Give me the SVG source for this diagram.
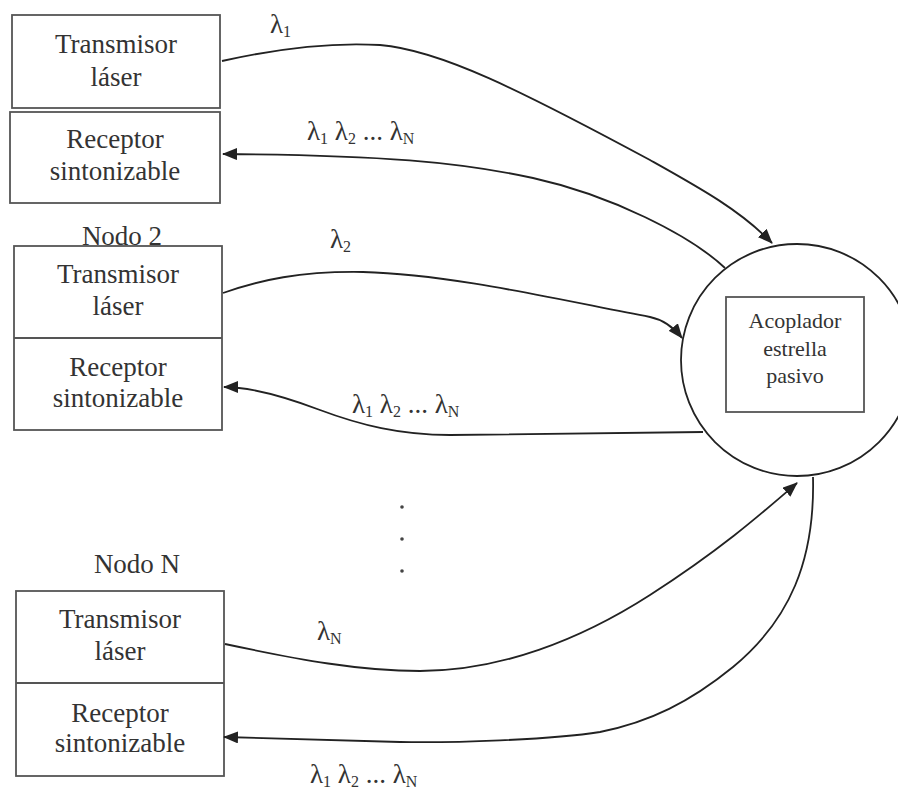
<svg xmlns="http://www.w3.org/2000/svg" width="898" height="791" viewBox="0 0 898 791">
<style>
.box{fill:none;stroke:#555;stroke-width:1.8}
.t{font-family:"Liberation Serif","Times New Roman",serif;font-size:27px;fill:#333;text-anchor:middle}
.c{font-family:"Liberation Serif","Times New Roman",serif;font-size:22px;fill:#333;text-anchor:middle}
.lam{font-family:"Liberation Serif","Times New Roman",serif;font-size:27px;fill:#333}
.sub{font-size:16px}
.conn{fill:none;stroke:#222;stroke-width:1.8}
</style>
<defs>
<marker id="ah" markerUnits="userSpaceOnUse" markerWidth="16" markerHeight="12" refX="14" refY="6" orient="auto">
<path d="M0,0 L15,6 L0,12 Z" fill="#222"/>
</marker>
</defs>
<rect width="898" height="791" fill="#fff"/>

<g id="nodo1">
<rect class="box" x="12" y="15" width="208" height="93"/>
<rect class="box" x="10" y="112" width="210" height="91"/>
<text class="t" x="116" y="53">Transmisor</text>
<text class="t" x="116" y="86">láser</text>
<text class="t" x="115" y="148">Receptor</text>
<text class="t" x="115" y="180">sintonizable</text>
</g>

<g id="nodo2">
<rect class="box" x="14" y="246" width="208" height="184"/>
<line class="box" x1="14" y1="338" x2="222" y2="338"/>
<text class="t" x="122" y="245">Nodo 2</text>
<text class="t" x="118" y="283">Transmisor</text>
<text class="t" x="118" y="315">láser</text>
<text class="t" x="118" y="376">Receptor</text>
<text class="t" x="118" y="407">sintonizable</text>
</g>

<g id="nodoN">
<rect class="box" x="16" y="591" width="208" height="185"/>
<line class="box" x1="16" y1="683" x2="224" y2="683"/>
<text class="t" x="137" y="573">Nodo N</text>
<text class="t" x="120" y="628">Transmisor</text>
<text class="t" x="120" y="660">láser</text>
<text class="t" x="120" y="722">Receptor</text>
<text class="t" x="120" y="752">sintonizable</text>
</g>

<g id="acoplador">
<circle cx="797" cy="360" r="116" fill="none" stroke="#222" stroke-width="1.8"/>
<rect class="box" x="726" y="297" width="138" height="115"/>
<text class="c" x="795" y="328">Acoplador</text>
<text class="c" x="795" y="356">estrella</text>
<text class="c" x="795" y="383">pasivo</text>
</g>

<g id="puntos" fill="#444">
<circle cx="402" cy="507" r="1.8"/>
<circle cx="402" cy="539" r="1.8"/>
<circle cx="402" cy="571" r="1.8"/>
</g>

<g id="conectores">
<path class="conn" marker-end="url(#ah)" d="M222,61 C280,48 330,42 380,45 C440,50 520,90 650,160 C700,188 740,210 772,243"/>
<path class="conn" marker-end="url(#ah)" d="M725,268 C690,235 610,195 533,178 C460,162 380,155 223,154"/>
<path class="conn" marker-end="url(#ah)" d="M223,293 C260,280 300,271 363,272 C450,274 560,300 650,317 C665,320 674,328 682,338"/>
<path class="conn" marker-end="url(#ah)" d="M703,432 C680,433 600,434 450,435 C400,435 360,425 320,410 C280,395 250,387 224,387"/>
<path class="conn" marker-end="url(#ah)" d="M225,644 C300,660 360,671 420,671 C500,671 580,640 650,595 C720,550 760,515 797,483"/>
<path class="conn" marker-end="url(#ah)" d="M813,477 C815,560 790,620 733,667 C690,702 650,722 600,732 C550,740 450,743 400,742 L224,737"/>
</g>

<g id="etiquetas">
<text class="lam" x="270" y="33">λ<tspan class="sub" dy="4">1</tspan></text>
<text class="lam" x="307" y="140">λ<tspan class="sub" dy="4">1</tspan><tspan dy="-4"> λ</tspan><tspan class="sub" dy="4">2</tspan><tspan dy="-4"> ... λ</tspan><tspan class="sub" dy="4">N</tspan></text>
<text class="lam" x="330" y="248">λ<tspan class="sub" dy="4">2</tspan></text>
<text class="lam" x="352" y="413">λ<tspan class="sub" dy="4">1</tspan><tspan dy="-4"> λ</tspan><tspan class="sub" dy="4">2</tspan><tspan dy="-4"> ... λ</tspan><tspan class="sub" dy="4">N</tspan></text>
<text class="lam" x="317" y="640">λ<tspan class="sub" dy="4">N</tspan></text>
<text class="lam" x="310" y="783">λ<tspan class="sub" dy="4">1</tspan><tspan dy="-4"> λ</tspan><tspan class="sub" dy="4">2</tspan><tspan dy="-4"> ... λ</tspan><tspan class="sub" dy="4">N</tspan></text>
</g>
</svg>
